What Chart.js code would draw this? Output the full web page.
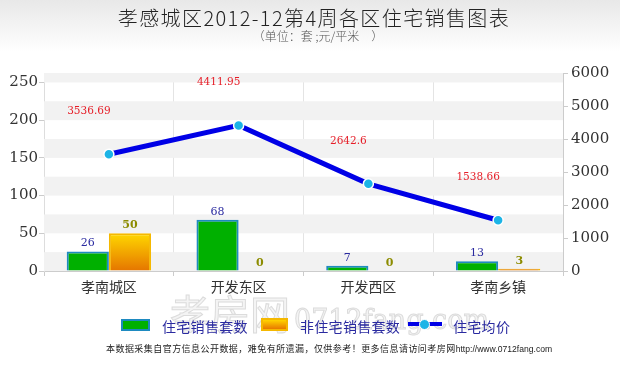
<!DOCTYPE html>
<html>
<head>
<meta charset="utf-8">
<script src="https://cdn.jsdelivr.net/npm/chart.js@4.4.1/dist/chart.umd.min.js"></script>
<style>
    html, body { margin: 0; padding: 0; }
    body {
        width: 620px; height: 368px; overflow: hidden; position: relative;
        background: linear-gradient(to bottom, #e8e8e8 0px, #ffffff 52px) no-repeat, #fff;
        font-family: "Noto Sans CJK SC", sans-serif;
    }
    #chart { position: absolute; left: 0; top: 0; }
    .title {
        position: absolute; left: 8px; top: 8px; width: 612px; text-align: center;
        font-size: 20px; line-height: 20px; letter-spacing: 1.4px; color: #222; font-weight: 300;
    }
    .subtitle {
        position: absolute; left: 16px; top: 30px; width: 604px; text-align: center;
        font-size: 12px; line-height: 12px; color: #555; font-weight: 300;
    }
    .watermark {
        position: absolute; top: 290px; left: 170px; white-space: nowrap;
        color: #f4f4f4; -webkit-text-stroke: 1px #dcdcdc;
    }
    .watermark .cn { font-size: 40px; line-height: 44px; }
    .watermark .en { font-family: "DejaVu Serif", serif; font-size: 27px; margin-left: 4px; }
    .legend { position: absolute; top: 317px; left: 0; width: 620px; height: 18px; }
    .legend div { position: absolute; }
    .lg-text { font-size: 14px; line-height: 16px; color: #2a2aa0; letter-spacing: 0.3px; top: 1px; }
    .footer {
        position: absolute; top: 343px; left: 106px; white-space: nowrap;
        font-size: 9px; line-height: 12px; color: #222; letter-spacing: 0.45px;
    }
    .footer span { font-family: "Liberation Sans", Arial, sans-serif; font-size: 8.6px; letter-spacing: 0; }
</style>
</head>
<body>
<canvas id="chart" width="620" height="368"></canvas>
<div class="title">孝感城区2012-12第4周各区住宅销售图表</div>
<div class="subtitle">（单位：套 ;元/平米　）</div>
<div class="watermark"><span class="cn">孝房网</span><span class="en">0712fang.com</span></div>
<div class="legend">
    <div style="left:121px; top:2px; width:25px; height:8px; background:#00b000; border:2px solid #1e8ac0;"></div>
    <div class="lg-text" style="left:162px;">住宅销售套数</div>
    <div style="left:261px; top:1px; width:23px; height:9px; background:linear-gradient(#ffd400, #e87800); border:2px solid #f5b800;"></div>
    <div class="lg-text" style="left:300px;">非住宅销售套数</div>
    <div style="left:408px; top:5px; width:13px; height:4px; background:#0000e6;"></div>
    <div style="left:429px; top:5px; width:13px; height:4px; background:#0000e6;"></div>
    <div style="left:419px; top:2px; width:9px; height:9px; border-radius:50%; background:#1cb4e6; border:1px solid #fff;"></div>
    <div class="lg-text" style="left:453px;">住宅均价</div>
</div>
<div class="footer">本数据采集自官方信息公开数据，难免有所遗漏，仅供参考！更多信息请访问孝房网<span>http://www.0712fang.com</span></div>

<script>
// Data
const districts = ["孝南城区", "开发东区", "开发西区", "孝南乡镇"];
const residentialSets = [26, 68, 7, 13];
const nonResidentialSets = [50, 0, 0, 3];
const avgPrice = [3536.69, 4411.95, 2642.6, 1538.66];
const countTicks = [0, 50, 100, 150, 200, 250];
const priceTicks = [0, 1000, 2000, 3000, 4000, 5000, 6000];

// Alternating grey bands behind the plot (every 25 sets)
const bandsPlugin = {
    id: "bands",
    beforeDatasetsDraw(chart) {
        const { ctx, chartArea, scales } = chart;
        const y = scales.y;
        ctx.save();
        ctx.fillStyle = "#f2f2f2";
        for (let v = 0; v < y.max; v += 50) {
            const top = y.getPixelForValue(Math.min(v + 25, y.max));
            const bottom = y.getPixelForValue(v);
            ctx.fillRect(chartArea.left, top, chartArea.right - chartArea.left, bottom - top);
        }
        ctx.restore();
    }
};

// Value labels above bars and line points
const valueLabels = {
    id: "valueLabels",
    afterDatasetsDraw(chart) {
        const ctx = chart.ctx;
        ctx.save();
        ctx.textAlign = "center";
        ctx.textBaseline = "middle";
        chart.data.datasets.forEach((ds, i) => {
            const meta = chart.getDatasetMeta(i);
            meta.data.forEach((el, j) => {
                const v = ds.data[j];
                if (ds.type === "line") {
                    ctx.font = '10.5px "DejaVu Serif"';
                    ctx.fillStyle = "#e61e28";
                    ctx.fillText(String(v), el.x - 20, el.y - 43);
                } else {
                    ctx.font = ds.labelFont;
                    ctx.fillStyle = ds.labelColor;
                    ctx.fillText(String(v), el.x, el.y - 8);
                }
            });
        });
        ctx.restore();
    }
};

function orangeFill(context) {
    const chart = context.chart;
    if (!chart.chartArea || !chart.scales.y) return "#f0a000";
    const y = chart.scales.y;
    const g = chart.ctx.createLinearGradient(0, y.getPixelForValue(50), 0, y.getPixelForValue(0));
    g.addColorStop(0, "#ffd800");
    g.addColorStop(1, "#e57500");
    return g;
}

const tickFont = { family: "DejaVu Serif", size: 15 };

new Chart(document.getElementById("chart"), {
    type: "bar",
    data: {
        labels: districts,
        datasets: [
            {
                type: "line",
                label: "住宅均价",
                data: avgPrice,
                yAxisID: "y1",
                order: 0,
                borderColor: "#0000e6",
                borderWidth: 5,
                pointRadius: 5,
                pointBackgroundColor: "#1cb4e6",
                pointBorderColor: "#ffffff",
                pointBorderWidth: 1.5,
                tension: 0
            },
            {
                label: "住宅销售套数",
                data: residentialSets,
                yAxisID: "y",
                order: 1,
                backgroundColor: "#00b000",
                borderColor: "#1e8ac0",
                borderWidth: 2,
                labelColor: "#2a2aa0",
                labelFont: '11px "DejaVu Serif"'
            },
            {
                label: "非住宅销售套数",
                data: nonResidentialSets,
                yAxisID: "y",
                order: 1,
                backgroundColor: orangeFill,
                borderColor: "#f5b800",
                borderWidth: 2,
                labelColor: "#8c8c00",
                labelFont: 'bold 11px "DejaVu Serif"'
            }
        ]
    },
    options: {
        responsive: false,
        animation: false,
        categoryPercentage: 0.65,
        barPercentage: 1,
        layout: { padding: { top: 73, left: 0, right: 0, bottom: 0 } },
        plugins: {
            legend: { display: false },
            tooltip: { enabled: false }
        },
        scales: {
            x: {
                grid: { offset: true, color: "#e4e4e4", tickLength: 5, tickColor: "#cccccc" },
                border: { color: "#cccccc" },
                ticks: { font: { family: "Noto Sans CJK SC", size: 14 }, color: "#333", padding: 2 },
                afterFit: s => { s.height = 97; }
            },
            y: {
                position: "left",
                min: 0,
                max: 262.5,
                grid: { drawOnChartArea: false, tickLength: 5, tickColor: "#cccccc" },
                border: { color: "#dddddd" },
                ticks: { stepSize: 50, includeBounds: false, font: tickFont, color: "#333", padding: 1,
                         callback: v => String(v) },
                afterBuildTicks: s => { s.ticks = countTicks.map(v => ({ value: v })); },
                afterFit: s => { s.width = 44; }
            },
            y1: {
                position: "right",
                min: 0,
                max: 6000,
                grid: { drawOnChartArea: false, tickLength: 5, tickColor: "#cccccc" },
                border: { color: "#cccccc" },
                ticks: { stepSize: 1000, font: tickFont, color: "#333", padding: 3,
                         callback: v => String(v) },
                afterBuildTicks: s => { s.ticks = priceTicks.map(v => ({ value: v })); },
                afterFit: s => { s.width = 57; }
            }
        }
    },
    plugins: [bandsPlugin, valueLabels]
});
</script>
</body>
</html>
